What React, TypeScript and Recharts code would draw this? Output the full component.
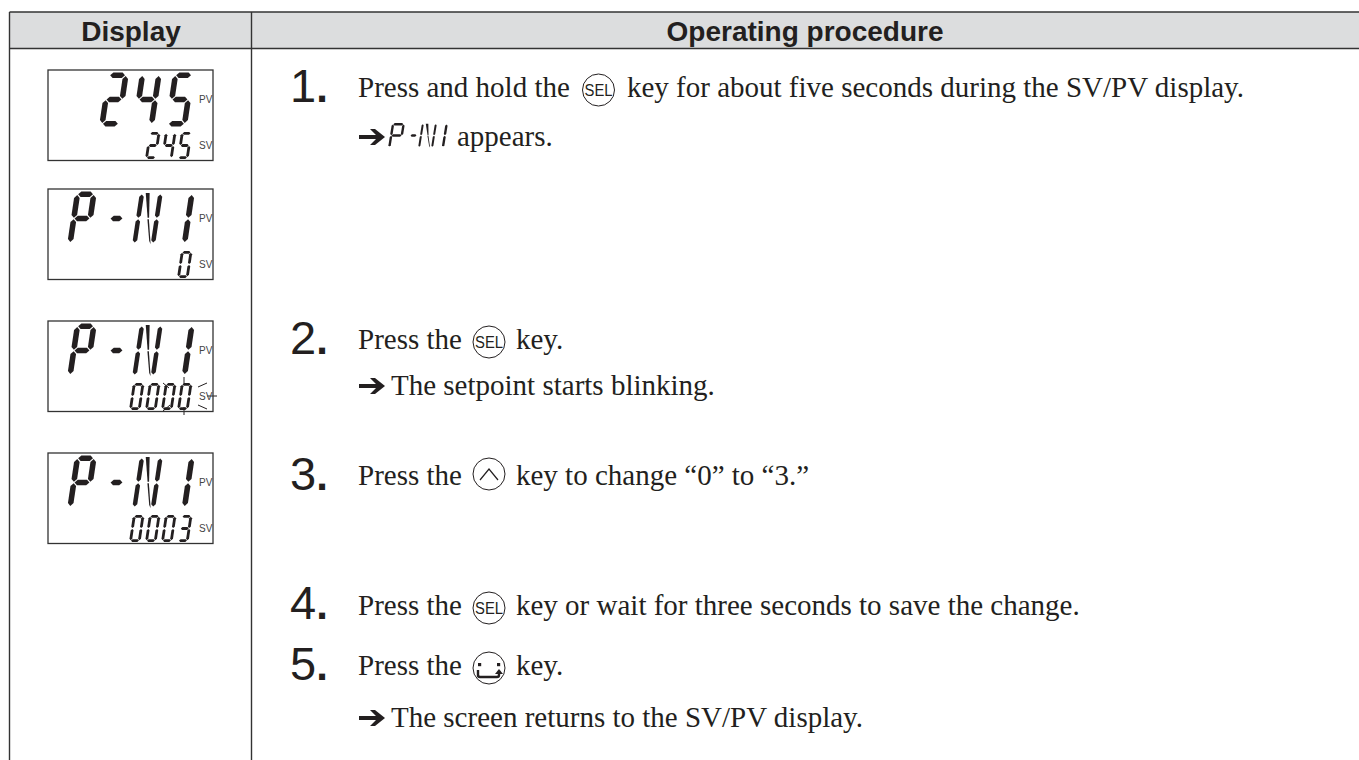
import { ComposedChart, Scatter, XAxis, YAxis, ReferenceArea, ReferenceLine } from "recharts";

const INK = "#231f20";
const SERIF = "'Liberation Serif', serif";
const SANS = "'Liberation Sans', sans-serif";

// table frame
const tableLeft = 9.5;
const tableDivider = 251.5;
const tableRight = 1359;
const tableTop = 12;
const headerBottom = 48.5;
const tableBottom = 760;

const headerLabels = ["Display", "Operating procedure"];
const headerX = [131, 805];
const headerY = [41, 41];

// LCD panels
const panelTop = [70, 189, 321, 453];
const panelPv = ["245", "P-N1", "P-N1", "P-N1"];
const panelSv = ["245", "0", "0000", "0003"];

// blink marks on the third panel
const blinkRays = [
  [184, 377, 184, 385],
  [184, 407, 184, 415],
  [163, 383, 169, 388],
  [163, 411, 170, 405],
  [198, 387, 207, 383],
  [207, 396, 217, 396],
  [198, 405, 207, 409],
];

// step numbers
const stepNumbers = ["1", "2", "3", "4", "5"];
const stepNumberX = [290, 290, 290, 290, 290];
const stepNumberY = [102, 354, 490, 619, 680];

// body text runs
const runText = [
  "Press and hold the",
  "key for about five seconds during the SV/PV display.",
  "appears.",
  "Press the",
  "key.",
  "The setpoint starts blinking.",
  "Press the",
  "key to change \u201c0\u201d to \u201c3.\u201d",
  "Press the",
  "key or wait for three seconds to save the change.",
  "Press the",
  "key.",
  "The screen returns to the SV/PV display.",
];
const runX = [358, 627, 457, 358, 516, 391, 358, 516, 358, 516, 358, 516, 391];
const runY = [97, 97, 146, 349, 349, 395, 485, 485, 615, 615, 675, 675, 727];

// arrows in front of the result lines
const arrowX = [359, 359, 359];
const arrowY = [146, 395, 727];

// front panel keys in the text
const keyKinds = ["sel", "sel", "up", "sel", "return"];
const keyX = [598.5, 489, 489, 489, 489];
const keyY = [90, 342, 474, 608, 668];

const headerData = headerLabels.map((label, i) => ({ x: headerX[i], y: headerY[i], label }));
const panelData = panelTop.map((top, i) => ({ x: 48, y: top, pv: panelPv[i], sv: panelSv[i] }));
const numberData = stepNumbers.map((label, i) => ({ x: stepNumberX[i], y: stepNumberY[i], label }));
const runData = runText.map((text, i) => ({ x: runX[i], y: runY[i], text }));
const arrowData = arrowX.map((x, i) => ({ x, y: arrowY[i] }));
const keyData = keyKinds.map((kind, i) => ({ x: keyX[i], y: keyY[i], kind }));
const inlineLcdData = [{ x: 388, y: 123 }];

const SEGMENTS: Record<string, string> = {
  "0": "abcdef",
  "2": "abged",
  "3": "abgcd",
  "4": "fgbc",
  "5": "afgcd",
  P: "abfge",
  "-": "g",
  "1": "bc",
  N: "efbcnm",
};

// one slanted segment character, x/y = left slot corner and top
function Glyph({ ch, x, y, w, h, slant, t }: { ch: string; x: number; y: number; w: number; h: number; slant: number; t: number }) {
  const g = t * 0.14;
  const q = t / 2;
  const hseg = (x1: number, x2: number, py: number) => [
    [x1, py], [x1 + q, py - q], [x2 - q, py - q], [x2, py], [x2 - q, py + q], [x1 + q, py + q],
  ];
  const vseg = (px: number, y1: number, y2: number) => [
    [px, y1], [px + q, y1 + q], [px + q, y2 - q], [px, y2], [px - q, y2 - q], [px - q, y1 + q],
  ];
  const left = q;
  const right = w - q;
  const mid = h / 2;
  const shapes: Record<string, number[][]> = {
    a: hseg(left + g, right - g, q),
    g: hseg(left + g, right - g, mid),
    d: hseg(left + g, right - g, h - q),
    f: vseg(left, q + g, mid - g),
    e: vseg(left, mid + g, h - q - g),
    b: vseg(right, q + g, mid - g),
    c: vseg(right, mid + g, h - q - g),
    // the two N diagonals, wide at the top and narrowing towards the tip
    n: [[w * 0.26, h * 0.03], [w * 0.43, h * 0.03], [w * 0.565, mid - g], [w * 0.5, mid - g]],
    m: [[w * 0.5, mid + g], [w * 0.565, mid + g], [w * 0.8, h - t * 0.3], [w * 0.72, h - t]],
  };
  const lit = SEGMENTS[ch] ?? "";
  return (
    <g>
      {lit.split("").map((key) => (
        <polygon
          key={key}
          fill={INK}
          points={shapes[key]
            .map(([px, py]) => `${x + px + slant * (1 - py / h)},${y + py}`)
            .join(" ")}
        />
      ))}
    </g>
  );
}

function PanelShape(props: any) {
  const { cx, cy, payload } = props;
  const slotsBig = [19, 51, 84, 117];
  const slotsSmall = [81, 97, 113, 129];
  const pv: string = payload.pv;
  const sv: string = payload.sv;
  const pvOffset = slotsBig.length - pv.length;
  const svOffset = slotsSmall.length - sv.length;
  return (
    <g>
      <rect x={cx} y={cy} width={165} height={90.5} fill="none" stroke="#333" strokeWidth={1.3} />
      {pv.split("").map((ch, i) => (
        <Glyph
          key={i}
          ch={ch}
          x={cx + slotsBig[i + pvOffset] + (ch === "-" ? 4 : 0)}
          y={cy + 2.5}
          w={ch === "N" ? 23 : ch === "-" ? 19 : 22}
          h={54}
          slant={8}
          t={ch === "N" ? 4.5 : 5.6}
        />
      ))}
      {sv.split("").map((ch, i) => (
        <Glyph key={i} ch={ch} x={cx + slotsSmall[i + svOffset]} y={cy + 62} w={11.5} h={27} slant={4} t={2.8} />
      ))}
      <text x={cx + 151} y={cy + 33} fontFamily={SANS} fontSize={10} fill="#444">PV</text>
      <text x={cx + 151} y={cy + 79} fontFamily={SANS} fontSize={10} fill="#444">SV</text>
    </g>
  );
}

function InlineLcdShape(props: any) {
  const { cx, cy } = props;
  return (
    <g>
      <Glyph ch="P" x={cx} y={cy} w={13} h={25} slant={4} t={2.4} />
      <Glyph ch="-" x={cx + 19} y={cy} w={9} h={25} slant={4} t={2.4} />
      <Glyph ch="N" x={cx + 30} y={cy} w={15} h={25} slant={4} t={2} />
      <Glyph ch="1" x={cx + 44} y={cy} w={12} h={25} slant={4} t={2.4} />
    </g>
  );
}

function HeaderShape(props: any) {
  const { cx, cy, payload } = props;
  return (
    <text x={cx} y={cy} textAnchor="middle" fontFamily={SANS} fontWeight={700} fontSize={28} fill={INK}>
      {payload.label}
    </text>
  );
}

function NumberShape(props: any) {
  const { cx, cy, payload } = props;
  return (
    <text x={cx} y={cy} fontFamily={SANS} fontSize={47} fill={INK}>
      {payload.label}
      <tspan fontSize={42} fontWeight={700}>.</tspan>
    </text>
  );
}

function RunShape(props: any) {
  const { cx, cy, payload } = props;
  return (
    <text x={cx} y={cy} fontFamily={SERIF} fontSize={29} fill={INK}>
      {payload.text}
    </text>
  );
}

function ArrowShape(props: any) {
  const { cx, cy } = props;
  const my = cy - 9;
  return (
    <path
      d={`M${cx},${my - 2} h17 l-6,-6 h5 l10,8 l-10,8 h-5 l6,-6 h-17 Z`}
      fill={INK}
    />
  );
}

function KeyShape(props: any) {
  const { cx, cy, payload } = props;
  return (
    <g>
      <circle cx={cx} cy={cy} r={16} fill="#fff" stroke={INK} strokeWidth={1} />
      {payload.kind === "sel" && (
        <text x={cx} y={cy + 6} textAnchor="middle" fontFamily={SANS} fontSize={16} fill={INK} textLength={28} lengthAdjust="spacingAndGlyphs">
          SEL
        </text>
      )}
      {payload.kind === "up" && (
        <polyline points={`${cx - 9},${cy + 6} ${cx},${cy - 5} ${cx + 9},${cy + 6}`} fill="none" stroke={INK} strokeWidth={1.2} />
      )}
      {payload.kind === "return" && (
        <g>
          <rect x={cx - 11} y={cy - 5} width={3.2} height={3.2} fill={INK} />
          <rect x={cx + 8} y={cy - 5} width={3.2} height={3.2} fill={INK} />
          <path d={`M${cx - 11},${cy + 2} v5 q0,2 2,2 h17 q2,0 2,-2 v-3`} fill="none" stroke={INK} strokeWidth={2.4} />
          <path d={`M${cx + 6},${cy + 6} L${cx + 10},${cy + 1} L${cx + 14},${cy + 6} Z`} fill={INK} />
        </g>
      )}
    </g>
  );
}

export default function App() {
  return (
    <div style={{ position: "absolute", left: 0, top: 0, width: 1359, height: 760, background: "#fff" }}>
      <ComposedChart width={1359} height={760} margin={{ top: 0, right: 0, bottom: 0, left: 0 }}>
        <XAxis type="number" dataKey="x" domain={[0, 1359]} hide allowDataOverflow />
        <YAxis type="number" dataKey="y" domain={[0, 760]} reversed hide allowDataOverflow />
        <ReferenceArea x1={tableLeft} x2={tableRight} y1={tableTop} y2={headerBottom} fill="#dcddde" fillOpacity={1} stroke="none" />
        {[tableTop, headerBottom].map((y) => (
          <ReferenceLine
            key={y}
            segment={[{ x: tableLeft, y }, { x: tableRight, y }]}
            stroke="#333"
            strokeWidth={1.4}
          />
        ))}
        {[tableLeft, tableDivider].map((x) => (
          <ReferenceLine
            key={x}
            segment={[{ x, y: tableTop }, { x, y: tableBottom }]}
            stroke="#333"
            strokeWidth={1.4}
          />
        ))}
        <Scatter data={headerData} shape={HeaderShape} isAnimationActive={false} />
        <Scatter data={panelData} shape={PanelShape} isAnimationActive={false} />
        {blinkRays.map(([x1, y1, x2, y2], i) => (
          <ReferenceLine
            key={i}
            segment={[{ x: x1, y: y1 }, { x: x2, y: y2 }]}
            stroke={INK}
            strokeWidth={1}
          />
        ))}
        <Scatter data={numberData} shape={NumberShape} isAnimationActive={false} />
        <Scatter data={runData} shape={RunShape} isAnimationActive={false} />
        <Scatter data={arrowData} shape={ArrowShape} isAnimationActive={false} />
        <Scatter data={keyData} shape={KeyShape} isAnimationActive={false} />
        <Scatter data={inlineLcdData} shape={InlineLcdShape} isAnimationActive={false} />
      </ComposedChart>
    </div>
  );
}
